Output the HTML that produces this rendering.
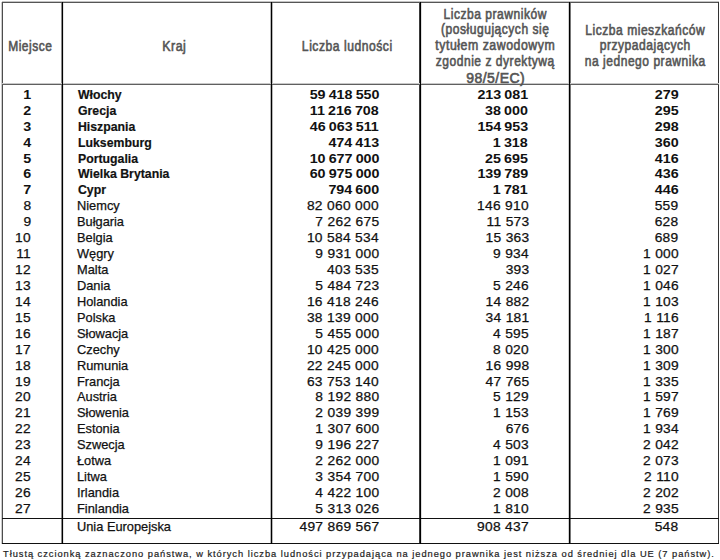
<!DOCTYPE html>
<html><head><meta charset="utf-8"><style>
html,body{margin:0;padding:0;background:#fff;}
body{width:720px;height:560px;position:relative;overflow:hidden;font-family:"Liberation Sans",Arial,sans-serif;color:#111;}
.l{position:absolute;}
.t{position:absolute;white-space:nowrap;line-height:16px;font-size:13px;-webkit-text-stroke:0.25px #111;}
.n{letter-spacing:0.25px;}
.sp{letter-spacing:0.39px;}
.b{font-weight:bold;-webkit-text-stroke:0.0px #111;}
.bc{transform:scaleX(0.945);transform-origin:0 0;-webkit-text-stroke:0.2px #111;}
.h{position:absolute;white-space:nowrap;line-height:16px;font-size:14px;font-weight:normal;color:#555;text-align:center;width:200px;-webkit-text-stroke:0.6px #555;}
.fn{position:absolute;white-space:nowrap;font-size:9.3px;line-height:12px;font-weight:normal;color:#222;letter-spacing:0.96px;-webkit-text-stroke:0.2px #222;}
</style></head><body>

<div class="l" style="left:61px;top:3px;width:1px;height:540px;background:#8a8a8a"></div>
<div class="l" style="left:63px;top:3px;width:1px;height:540px;background:#e4e4e4"></div>
<div class="l" style="left:270px;top:3px;width:1px;height:540px;background:#b8b8b8"></div>
<div class="l" style="left:272px;top:3px;width:1px;height:540px;background:#b8b8b8"></div>
<div class="l" style="left:419px;top:3px;width:1px;height:540px;background:#3a3a3a"></div>
<div class="l" style="left:421px;top:3px;width:1px;height:540px;background:#dedede"></div>
<div class="l" style="left:568px;top:3px;width:1px;height:540px;background:#d0d0d0"></div>
<div class="l" style="left:570px;top:3px;width:1px;height:540px;background:#777"></div>
<div class="l" style="left:2px;top:1px;width:717px;height:1px;background:#c4c4c4"></div>
<div class="l" style="left:1px;top:2px;width:1px;height:542px;background:#cccccc"></div>
<div class="l" style="left:2px;top:2px;width:717px;height:1px;background:#555"></div>
<div class="l" style="left:2px;top:2px;width:1px;height:542px;background:#4d4d4d"></div>
<div class="l" style="left:718px;top:2px;width:1px;height:542px;background:#333"></div>
<div class="l" style="left:2px;top:543px;width:717px;height:1px;background:#111"></div>
<div class="l" style="left:2px;top:83px;width:717px;height:1px;background:#c8c8c8"></div>
<div class="l" style="left:2px;top:84px;width:717px;height:1px;background:#606060"></div>
<div class="l" style="left:2px;top:518px;width:717px;height:1px;background:#111"></div>
<div class="l" style="left:62px;top:2px;width:1px;height:542px;background:#000"></div>
<div class="l" style="left:271px;top:2px;width:1px;height:542px;background:#000"></div>
<div class="l" style="left:420px;top:2px;width:1px;height:542px;background:#000"></div>
<div class="l" style="left:569px;top:2px;width:1px;height:542px;background:#000"></div>
<div class="h" style="left:-69.60px;top:37.75px;transform:scaleX(0.8560);letter-spacing:0.6px;text-indent:0.6px;">Miejsce</div>
<div class="h" style="left:74.00px;top:37.75px;transform:scaleX(0.8880);letter-spacing:0.6px;text-indent:0.6px;">Kraj</div>
<div class="h" style="left:246.60px;top:37.75px;transform:scaleX(0.8665);letter-spacing:0.6px;text-indent:0.6px;">Liczba ludności</div>
<div class="h" style="left:395.30px;top:5.55px;transform:scaleX(0.8605);letter-spacing:0.6px;text-indent:0.6px;">Liczba prawników</div>
<div class="h" style="left:395.45px;top:21.45px;transform:scaleX(0.8600);letter-spacing:0.6px;text-indent:0.6px;">(posługujących się</div>
<div class="h" style="left:395.20px;top:37.45px;transform:scaleX(0.8800);letter-spacing:0.6px;text-indent:0.6px;">tytułem zawodowym</div>
<div class="h" style="left:395.25px;top:53.45px;transform:scaleX(0.8606);letter-spacing:0.6px;text-indent:0.6px;">zgodnie z dyrektywą</div>
<div class="h" style="left:395.50px;top:70.35px;transform:scaleX(1.0000);letter-spacing:0.45px;text-indent:0.45px;">98/5/EC)</div>
<div class="h" style="left:544.80px;top:21.55px;transform:scaleX(0.8609);letter-spacing:0.6px;text-indent:0.6px;">Liczba mieszkańców</div>
<div class="h" style="left:544.85px;top:37.45px;transform:scaleX(0.8625);letter-spacing:0.6px;text-indent:0.6px;">przypadających</div>
<div class="h" style="left:544.75px;top:53.35px;transform:scaleX(0.8607);letter-spacing:0.6px;text-indent:0.6px;">na jednego prawnika</div>
<div class="t b" style="right:688.90px;top:86.80px;letter-spacing:0.0px;transform:scaleX(1.1);transform-origin:100% 0;">1</div>
<div class="t b bc" style="left:78.0px;top:86.80px;">Włochy</div>
<div class="t b" style="right:341.00px;top:86.80px;letter-spacing:0.0px;transform:scaleX(1.1);transform-origin:100% 0;">59<span style="letter-spacing:-0.81px"> </span>418<span style="letter-spacing:-0.81px"> </span>550</div>
<div class="t b" style="right:192.00px;top:86.80px;letter-spacing:0.0px;transform:scaleX(1.1);transform-origin:100% 0;">213<span style="letter-spacing:-0.81px"> </span>081</div>
<div class="t b" style="right:41.50px;top:86.80px;letter-spacing:0.0px;transform:scaleX(1.1);transform-origin:100% 0;">279</div>
<div class="t b" style="right:688.90px;top:102.73px;letter-spacing:0.0px;transform:scaleX(1.1);transform-origin:100% 0;">2</div>
<div class="t b bc" style="left:78.0px;top:102.73px;">Grecja</div>
<div class="t b" style="right:341.00px;top:102.73px;letter-spacing:0.0px;transform:scaleX(1.1);transform-origin:100% 0;">11<span style="letter-spacing:-0.81px"> </span>216<span style="letter-spacing:-0.81px"> </span>708</div>
<div class="t b" style="right:192.00px;top:102.73px;letter-spacing:0.0px;transform:scaleX(1.1);transform-origin:100% 0;">38<span style="letter-spacing:-0.81px"> </span>000</div>
<div class="t b" style="right:41.50px;top:102.73px;letter-spacing:0.0px;transform:scaleX(1.1);transform-origin:100% 0;">295</div>
<div class="t b" style="right:688.90px;top:118.66px;letter-spacing:0.0px;transform:scaleX(1.1);transform-origin:100% 0;">3</div>
<div class="t b bc" style="left:78.0px;top:118.66px;">Hiszpania</div>
<div class="t b" style="right:341.00px;top:118.66px;letter-spacing:0.0px;transform:scaleX(1.1);transform-origin:100% 0;">46<span style="letter-spacing:-0.81px"> </span>063<span style="letter-spacing:-0.81px"> </span>511</div>
<div class="t b" style="right:192.00px;top:118.66px;letter-spacing:0.0px;transform:scaleX(1.1);transform-origin:100% 0;">154<span style="letter-spacing:-0.81px"> </span>953</div>
<div class="t b" style="right:41.50px;top:118.66px;letter-spacing:0.0px;transform:scaleX(1.1);transform-origin:100% 0;">298</div>
<div class="t b" style="right:688.90px;top:134.59px;letter-spacing:0.0px;transform:scaleX(1.1);transform-origin:100% 0;">4</div>
<div class="t b bc" style="left:78.0px;top:134.59px;">Luksemburg</div>
<div class="t b" style="right:341.00px;top:134.59px;letter-spacing:0.0px;transform:scaleX(1.1);transform-origin:100% 0;">474<span style="letter-spacing:-0.81px"> </span>413</div>
<div class="t b" style="right:192.00px;top:134.59px;letter-spacing:0.0px;transform:scaleX(1.1);transform-origin:100% 0;">1<span style="letter-spacing:-0.81px"> </span>318</div>
<div class="t b" style="right:41.50px;top:134.59px;letter-spacing:0.0px;transform:scaleX(1.1);transform-origin:100% 0;">360</div>
<div class="t b" style="right:688.90px;top:150.52px;letter-spacing:0.0px;transform:scaleX(1.1);transform-origin:100% 0;">5</div>
<div class="t b bc" style="left:78.0px;top:150.52px;">Portugalia</div>
<div class="t b" style="right:341.00px;top:150.52px;letter-spacing:0.0px;transform:scaleX(1.1);transform-origin:100% 0;">10<span style="letter-spacing:-0.81px"> </span>677<span style="letter-spacing:-0.81px"> </span>000</div>
<div class="t b" style="right:192.00px;top:150.52px;letter-spacing:0.0px;transform:scaleX(1.1);transform-origin:100% 0;">25<span style="letter-spacing:-0.81px"> </span>695</div>
<div class="t b" style="right:41.50px;top:150.52px;letter-spacing:0.0px;transform:scaleX(1.1);transform-origin:100% 0;">416</div>
<div class="t b" style="right:688.90px;top:166.45px;letter-spacing:0.0px;transform:scaleX(1.1);transform-origin:100% 0;">6</div>
<div class="t b bc" style="left:78.0px;top:166.45px;">Wielka Brytania</div>
<div class="t b" style="right:341.00px;top:166.45px;letter-spacing:0.0px;transform:scaleX(1.1);transform-origin:100% 0;">60<span style="letter-spacing:-0.81px"> </span>975<span style="letter-spacing:-0.81px"> </span>000</div>
<div class="t b" style="right:192.00px;top:166.45px;letter-spacing:0.0px;transform:scaleX(1.1);transform-origin:100% 0;">139<span style="letter-spacing:-0.81px"> </span>789</div>
<div class="t b" style="right:41.50px;top:166.45px;letter-spacing:0.0px;transform:scaleX(1.1);transform-origin:100% 0;">436</div>
<div class="t b" style="right:688.90px;top:182.38px;letter-spacing:0.0px;transform:scaleX(1.1);transform-origin:100% 0;">7</div>
<div class="t b bc" style="left:78.0px;top:182.38px;">Cypr</div>
<div class="t b" style="right:341.00px;top:182.38px;letter-spacing:0.0px;transform:scaleX(1.1);transform-origin:100% 0;">794<span style="letter-spacing:-0.81px"> </span>600</div>
<div class="t b" style="right:192.00px;top:182.38px;letter-spacing:0.0px;transform:scaleX(1.1);transform-origin:100% 0;">1<span style="letter-spacing:-0.81px"> </span>781</div>
<div class="t b" style="right:41.50px;top:182.38px;letter-spacing:0.0px;transform:scaleX(1.1);transform-origin:100% 0;">446</div>
<div class="t" style="right:688.63px;top:198.31px;letter-spacing:0.25px;transform:scaleX(1.06);transform-origin:100% 0;">8</div>
<div class="t" style="left:77.2px;top:198.31px;transform:scaleX(0.985);transform-origin:0 0;">Niemcy</div>
<div class="t" style="right:340.74px;top:198.31px;letter-spacing:0.25px;transform:scaleX(1.06);transform-origin:100% 0;">82<span style="letter-spacing:0.39px"> </span>060<span style="letter-spacing:0.39px"> </span>000</div>
<div class="t" style="right:191.03px;top:198.31px;letter-spacing:0.25px;transform:scaleX(1.06);transform-origin:100% 0;">146<span style="letter-spacing:0.39px"> </span>910</div>
<div class="t" style="right:41.53px;top:198.31px;letter-spacing:0.25px;transform:scaleX(1.06);transform-origin:100% 0;">559</div>
<div class="t" style="right:688.63px;top:214.24px;letter-spacing:0.25px;transform:scaleX(1.06);transform-origin:100% 0;">9</div>
<div class="t" style="left:77.2px;top:214.24px;transform:scaleX(0.985);transform-origin:0 0;">Bułgaria</div>
<div class="t" style="right:340.74px;top:214.24px;letter-spacing:0.25px;transform:scaleX(1.06);transform-origin:100% 0;">7<span style="letter-spacing:0.39px"> </span>262<span style="letter-spacing:0.39px"> </span>675</div>
<div class="t" style="right:191.03px;top:214.24px;letter-spacing:0.25px;transform:scaleX(1.06);transform-origin:100% 0;">11<span style="letter-spacing:0.39px"> </span>573</div>
<div class="t" style="right:41.53px;top:214.24px;letter-spacing:0.25px;transform:scaleX(1.06);transform-origin:100% 0;">628</div>
<div class="t" style="right:688.63px;top:230.17px;letter-spacing:0.25px;transform:scaleX(1.06);transform-origin:100% 0;">10</div>
<div class="t" style="left:77.2px;top:230.17px;transform:scaleX(0.985);transform-origin:0 0;">Belgia</div>
<div class="t" style="right:340.74px;top:230.17px;letter-spacing:0.25px;transform:scaleX(1.06);transform-origin:100% 0;">10<span style="letter-spacing:0.39px"> </span>584<span style="letter-spacing:0.39px"> </span>534</div>
<div class="t" style="right:191.03px;top:230.17px;letter-spacing:0.25px;transform:scaleX(1.06);transform-origin:100% 0;">15<span style="letter-spacing:0.39px"> </span>363</div>
<div class="t" style="right:41.53px;top:230.17px;letter-spacing:0.25px;transform:scaleX(1.06);transform-origin:100% 0;">689</div>
<div class="t" style="right:688.63px;top:246.10px;letter-spacing:0.25px;transform:scaleX(1.06);transform-origin:100% 0;">11</div>
<div class="t" style="left:77.2px;top:246.10px;transform:scaleX(0.985);transform-origin:0 0;">Węgry</div>
<div class="t" style="right:340.74px;top:246.10px;letter-spacing:0.25px;transform:scaleX(1.06);transform-origin:100% 0;">9<span style="letter-spacing:0.39px"> </span>931<span style="letter-spacing:0.39px"> </span>000</div>
<div class="t" style="right:191.03px;top:246.10px;letter-spacing:0.25px;transform:scaleX(1.06);transform-origin:100% 0;">9<span style="letter-spacing:0.39px"> </span>934</div>
<div class="t" style="right:41.53px;top:246.10px;letter-spacing:0.25px;transform:scaleX(1.06);transform-origin:100% 0;">1<span style="letter-spacing:0.39px"> </span>000</div>
<div class="t" style="right:688.63px;top:262.03px;letter-spacing:0.25px;transform:scaleX(1.06);transform-origin:100% 0;">12</div>
<div class="t" style="left:77.2px;top:262.03px;transform:scaleX(0.985);transform-origin:0 0;">Malta</div>
<div class="t" style="right:340.74px;top:262.03px;letter-spacing:0.25px;transform:scaleX(1.06);transform-origin:100% 0;">403<span style="letter-spacing:0.39px"> </span>535</div>
<div class="t" style="right:191.03px;top:262.03px;letter-spacing:0.25px;transform:scaleX(1.06);transform-origin:100% 0;">393</div>
<div class="t" style="right:41.53px;top:262.03px;letter-spacing:0.25px;transform:scaleX(1.06);transform-origin:100% 0;">1<span style="letter-spacing:0.39px"> </span>027</div>
<div class="t" style="right:688.63px;top:277.96px;letter-spacing:0.25px;transform:scaleX(1.06);transform-origin:100% 0;">13</div>
<div class="t" style="left:77.2px;top:277.96px;transform:scaleX(0.985);transform-origin:0 0;">Dania</div>
<div class="t" style="right:340.74px;top:277.96px;letter-spacing:0.25px;transform:scaleX(1.06);transform-origin:100% 0;">5<span style="letter-spacing:0.39px"> </span>484<span style="letter-spacing:0.39px"> </span>723</div>
<div class="t" style="right:191.03px;top:277.96px;letter-spacing:0.25px;transform:scaleX(1.06);transform-origin:100% 0;">5<span style="letter-spacing:0.39px"> </span>246</div>
<div class="t" style="right:41.53px;top:277.96px;letter-spacing:0.25px;transform:scaleX(1.06);transform-origin:100% 0;">1<span style="letter-spacing:0.39px"> </span>046</div>
<div class="t" style="right:688.63px;top:293.89px;letter-spacing:0.25px;transform:scaleX(1.06);transform-origin:100% 0;">14</div>
<div class="t" style="left:77.2px;top:293.89px;transform:scaleX(0.985);transform-origin:0 0;">Holandia</div>
<div class="t" style="right:340.74px;top:293.89px;letter-spacing:0.25px;transform:scaleX(1.06);transform-origin:100% 0;">16<span style="letter-spacing:0.39px"> </span>418<span style="letter-spacing:0.39px"> </span>246</div>
<div class="t" style="right:191.03px;top:293.89px;letter-spacing:0.25px;transform:scaleX(1.06);transform-origin:100% 0;">14<span style="letter-spacing:0.39px"> </span>882</div>
<div class="t" style="right:41.53px;top:293.89px;letter-spacing:0.25px;transform:scaleX(1.06);transform-origin:100% 0;">1<span style="letter-spacing:0.39px"> </span>103</div>
<div class="t" style="right:688.63px;top:309.82px;letter-spacing:0.25px;transform:scaleX(1.06);transform-origin:100% 0;">15</div>
<div class="t" style="left:77.2px;top:309.82px;transform:scaleX(0.985);transform-origin:0 0;">Polska</div>
<div class="t" style="right:340.74px;top:309.82px;letter-spacing:0.25px;transform:scaleX(1.06);transform-origin:100% 0;">38<span style="letter-spacing:0.39px"> </span>139<span style="letter-spacing:0.39px"> </span>000</div>
<div class="t" style="right:191.03px;top:309.82px;letter-spacing:0.25px;transform:scaleX(1.06);transform-origin:100% 0;">34<span style="letter-spacing:0.39px"> </span>181</div>
<div class="t" style="right:41.53px;top:309.82px;letter-spacing:0.25px;transform:scaleX(1.06);transform-origin:100% 0;">1<span style="letter-spacing:0.39px"> </span>116</div>
<div class="t" style="right:688.63px;top:325.75px;letter-spacing:0.25px;transform:scaleX(1.06);transform-origin:100% 0;">16</div>
<div class="t" style="left:77.2px;top:325.75px;transform:scaleX(0.985);transform-origin:0 0;">Słowacja</div>
<div class="t" style="right:340.74px;top:325.75px;letter-spacing:0.25px;transform:scaleX(1.06);transform-origin:100% 0;">5<span style="letter-spacing:0.39px"> </span>455<span style="letter-spacing:0.39px"> </span>000</div>
<div class="t" style="right:191.03px;top:325.75px;letter-spacing:0.25px;transform:scaleX(1.06);transform-origin:100% 0;">4<span style="letter-spacing:0.39px"> </span>595</div>
<div class="t" style="right:41.53px;top:325.75px;letter-spacing:0.25px;transform:scaleX(1.06);transform-origin:100% 0;">1<span style="letter-spacing:0.39px"> </span>187</div>
<div class="t" style="right:688.63px;top:341.68px;letter-spacing:0.25px;transform:scaleX(1.06);transform-origin:100% 0;">17</div>
<div class="t" style="left:77.2px;top:341.68px;transform:scaleX(0.985);transform-origin:0 0;">Czechy</div>
<div class="t" style="right:340.74px;top:341.68px;letter-spacing:0.25px;transform:scaleX(1.06);transform-origin:100% 0;">10<span style="letter-spacing:0.39px"> </span>425<span style="letter-spacing:0.39px"> </span>000</div>
<div class="t" style="right:191.03px;top:341.68px;letter-spacing:0.25px;transform:scaleX(1.06);transform-origin:100% 0;">8<span style="letter-spacing:0.39px"> </span>020</div>
<div class="t" style="right:41.53px;top:341.68px;letter-spacing:0.25px;transform:scaleX(1.06);transform-origin:100% 0;">1<span style="letter-spacing:0.39px"> </span>300</div>
<div class="t" style="right:688.63px;top:357.61px;letter-spacing:0.25px;transform:scaleX(1.06);transform-origin:100% 0;">18</div>
<div class="t" style="left:77.2px;top:357.61px;transform:scaleX(0.985);transform-origin:0 0;">Rumunia</div>
<div class="t" style="right:340.74px;top:357.61px;letter-spacing:0.25px;transform:scaleX(1.06);transform-origin:100% 0;">22<span style="letter-spacing:0.39px"> </span>245<span style="letter-spacing:0.39px"> </span>000</div>
<div class="t" style="right:191.03px;top:357.61px;letter-spacing:0.25px;transform:scaleX(1.06);transform-origin:100% 0;">16<span style="letter-spacing:0.39px"> </span>998</div>
<div class="t" style="right:41.53px;top:357.61px;letter-spacing:0.25px;transform:scaleX(1.06);transform-origin:100% 0;">1<span style="letter-spacing:0.39px"> </span>309</div>
<div class="t" style="right:688.63px;top:373.54px;letter-spacing:0.25px;transform:scaleX(1.06);transform-origin:100% 0;">19</div>
<div class="t" style="left:77.2px;top:373.54px;transform:scaleX(0.985);transform-origin:0 0;">Francja</div>
<div class="t" style="right:340.74px;top:373.54px;letter-spacing:0.25px;transform:scaleX(1.06);transform-origin:100% 0;">63<span style="letter-spacing:0.39px"> </span>753<span style="letter-spacing:0.39px"> </span>140</div>
<div class="t" style="right:191.03px;top:373.54px;letter-spacing:0.25px;transform:scaleX(1.06);transform-origin:100% 0;">47<span style="letter-spacing:0.39px"> </span>765</div>
<div class="t" style="right:41.53px;top:373.54px;letter-spacing:0.25px;transform:scaleX(1.06);transform-origin:100% 0;">1<span style="letter-spacing:0.39px"> </span>335</div>
<div class="t" style="right:688.63px;top:389.47px;letter-spacing:0.25px;transform:scaleX(1.06);transform-origin:100% 0;">20</div>
<div class="t" style="left:77.2px;top:389.47px;transform:scaleX(0.985);transform-origin:0 0;">Austria</div>
<div class="t" style="right:340.74px;top:389.47px;letter-spacing:0.25px;transform:scaleX(1.06);transform-origin:100% 0;">8<span style="letter-spacing:0.39px"> </span>192<span style="letter-spacing:0.39px"> </span>880</div>
<div class="t" style="right:191.03px;top:389.47px;letter-spacing:0.25px;transform:scaleX(1.06);transform-origin:100% 0;">5<span style="letter-spacing:0.39px"> </span>129</div>
<div class="t" style="right:41.53px;top:389.47px;letter-spacing:0.25px;transform:scaleX(1.06);transform-origin:100% 0;">1<span style="letter-spacing:0.39px"> </span>597</div>
<div class="t" style="right:688.63px;top:405.40px;letter-spacing:0.25px;transform:scaleX(1.06);transform-origin:100% 0;">21</div>
<div class="t" style="left:77.2px;top:405.40px;transform:scaleX(0.985);transform-origin:0 0;">Słowenia</div>
<div class="t" style="right:340.74px;top:405.40px;letter-spacing:0.25px;transform:scaleX(1.06);transform-origin:100% 0;">2<span style="letter-spacing:0.39px"> </span>039<span style="letter-spacing:0.39px"> </span>399</div>
<div class="t" style="right:191.03px;top:405.40px;letter-spacing:0.25px;transform:scaleX(1.06);transform-origin:100% 0;">1<span style="letter-spacing:0.39px"> </span>153</div>
<div class="t" style="right:41.53px;top:405.40px;letter-spacing:0.25px;transform:scaleX(1.06);transform-origin:100% 0;">1<span style="letter-spacing:0.39px"> </span>769</div>
<div class="t" style="right:688.63px;top:421.33px;letter-spacing:0.25px;transform:scaleX(1.06);transform-origin:100% 0;">22</div>
<div class="t" style="left:77.2px;top:421.33px;transform:scaleX(0.985);transform-origin:0 0;">Estonia</div>
<div class="t" style="right:340.74px;top:421.33px;letter-spacing:0.25px;transform:scaleX(1.06);transform-origin:100% 0;">1<span style="letter-spacing:0.39px"> </span>307<span style="letter-spacing:0.39px"> </span>600</div>
<div class="t" style="right:191.03px;top:421.33px;letter-spacing:0.25px;transform:scaleX(1.06);transform-origin:100% 0;">676</div>
<div class="t" style="right:41.53px;top:421.33px;letter-spacing:0.25px;transform:scaleX(1.06);transform-origin:100% 0;">1<span style="letter-spacing:0.39px"> </span>934</div>
<div class="t" style="right:688.63px;top:437.26px;letter-spacing:0.25px;transform:scaleX(1.06);transform-origin:100% 0;">23</div>
<div class="t" style="left:77.2px;top:437.26px;transform:scaleX(0.985);transform-origin:0 0;">Szwecja</div>
<div class="t" style="right:340.74px;top:437.26px;letter-spacing:0.25px;transform:scaleX(1.06);transform-origin:100% 0;">9<span style="letter-spacing:0.39px"> </span>196<span style="letter-spacing:0.39px"> </span>227</div>
<div class="t" style="right:191.03px;top:437.26px;letter-spacing:0.25px;transform:scaleX(1.06);transform-origin:100% 0;">4<span style="letter-spacing:0.39px"> </span>503</div>
<div class="t" style="right:41.53px;top:437.26px;letter-spacing:0.25px;transform:scaleX(1.06);transform-origin:100% 0;">2<span style="letter-spacing:0.39px"> </span>042</div>
<div class="t" style="right:688.63px;top:453.19px;letter-spacing:0.25px;transform:scaleX(1.06);transform-origin:100% 0;">24</div>
<div class="t" style="left:77.2px;top:453.19px;transform:scaleX(0.985);transform-origin:0 0;">Łotwa</div>
<div class="t" style="right:340.74px;top:453.19px;letter-spacing:0.25px;transform:scaleX(1.06);transform-origin:100% 0;">2<span style="letter-spacing:0.39px"> </span>262<span style="letter-spacing:0.39px"> </span>000</div>
<div class="t" style="right:191.03px;top:453.19px;letter-spacing:0.25px;transform:scaleX(1.06);transform-origin:100% 0;">1<span style="letter-spacing:0.39px"> </span>091</div>
<div class="t" style="right:41.53px;top:453.19px;letter-spacing:0.25px;transform:scaleX(1.06);transform-origin:100% 0;">2<span style="letter-spacing:0.39px"> </span>073</div>
<div class="t" style="right:688.63px;top:469.12px;letter-spacing:0.25px;transform:scaleX(1.06);transform-origin:100% 0;">25</div>
<div class="t" style="left:77.2px;top:469.12px;transform:scaleX(0.985);transform-origin:0 0;">Litwa</div>
<div class="t" style="right:340.74px;top:469.12px;letter-spacing:0.25px;transform:scaleX(1.06);transform-origin:100% 0;">3<span style="letter-spacing:0.39px"> </span>354<span style="letter-spacing:0.39px"> </span>700</div>
<div class="t" style="right:191.03px;top:469.12px;letter-spacing:0.25px;transform:scaleX(1.06);transform-origin:100% 0;">1<span style="letter-spacing:0.39px"> </span>590</div>
<div class="t" style="right:41.53px;top:469.12px;letter-spacing:0.25px;transform:scaleX(1.06);transform-origin:100% 0;">2<span style="letter-spacing:0.39px"> </span>110</div>
<div class="t" style="right:688.63px;top:485.05px;letter-spacing:0.25px;transform:scaleX(1.06);transform-origin:100% 0;">26</div>
<div class="t" style="left:77.2px;top:485.05px;transform:scaleX(0.985);transform-origin:0 0;">Irlandia</div>
<div class="t" style="right:340.74px;top:485.05px;letter-spacing:0.25px;transform:scaleX(1.06);transform-origin:100% 0;">4<span style="letter-spacing:0.39px"> </span>422<span style="letter-spacing:0.39px"> </span>100</div>
<div class="t" style="right:191.03px;top:485.05px;letter-spacing:0.25px;transform:scaleX(1.06);transform-origin:100% 0;">2<span style="letter-spacing:0.39px"> </span>008</div>
<div class="t" style="right:41.53px;top:485.05px;letter-spacing:0.25px;transform:scaleX(1.06);transform-origin:100% 0;">2<span style="letter-spacing:0.39px"> </span>202</div>
<div class="t" style="right:688.63px;top:500.98px;letter-spacing:0.25px;transform:scaleX(1.06);transform-origin:100% 0;">27</div>
<div class="t" style="left:77.2px;top:500.98px;transform:scaleX(0.985);transform-origin:0 0;">Finlandia</div>
<div class="t" style="right:340.74px;top:500.98px;letter-spacing:0.25px;transform:scaleX(1.06);transform-origin:100% 0;">5<span style="letter-spacing:0.39px"> </span>313<span style="letter-spacing:0.39px"> </span>026</div>
<div class="t" style="right:191.03px;top:500.98px;letter-spacing:0.25px;transform:scaleX(1.06);transform-origin:100% 0;">1<span style="letter-spacing:0.39px"> </span>810</div>
<div class="t" style="right:41.53px;top:500.98px;letter-spacing:0.25px;transform:scaleX(1.06);transform-origin:100% 0;">2<span style="letter-spacing:0.39px"> </span>935</div>
<div class="t" style="left:77.2px;top:519.30px;transform:scaleX(0.985);transform-origin:0 0;">Unia Europejska</div>
<div class="t" style="right:340.74px;top:519.30px;letter-spacing:0.25px;transform:scaleX(1.06);transform-origin:100% 0;">497<span style="letter-spacing:0.39px"> </span>869<span style="letter-spacing:0.39px"> </span>567</div>
<div class="t" style="right:191.03px;top:519.30px;letter-spacing:0.25px;transform:scaleX(1.06);transform-origin:100% 0;">908<span style="letter-spacing:0.39px"> </span>437</div>
<div class="t" style="right:41.53px;top:519.30px;letter-spacing:0.25px;transform:scaleX(1.06);transform-origin:100% 0;">548</div>
<div class="fn" style="left:3px;top:548px">Tłustą czcionką zaznaczono państwa, w których liczba ludności przypadająca na jednego prawnika jest niższa od średniej dla UE (7 państw).</div>
</body></html>
